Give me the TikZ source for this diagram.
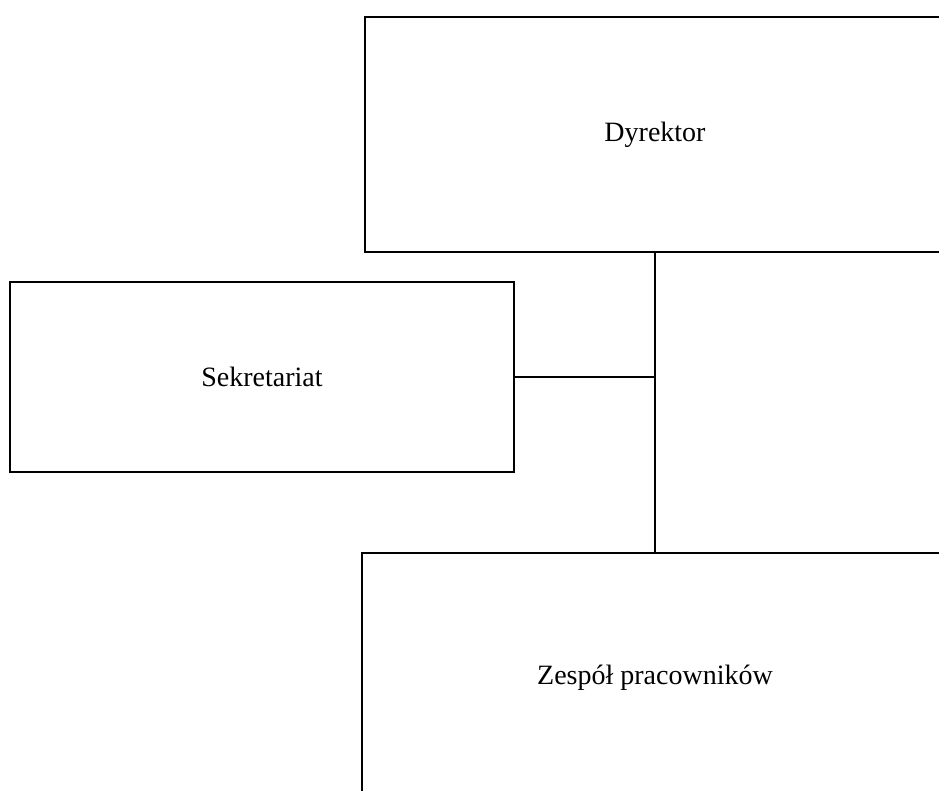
\documentclass[tikz,border=0pt]{standalone}
\usepackage{fontspec}
\setmainfont{Liberation Serif}
\tikzset{
  orgbox/.style={draw,line width=2.5pt,fill=white,font=\fontsize{28}{34}\selectfont,inner sep=0pt},
  orgline/.style={line width=2.5pt}
}
\begin{document}
\begin{tikzpicture}[x=1pt,y=-1pt]
% Page frame
\clip (0,0) rectangle (939,790);
\fill[white] (0,0) rectangle (939,790);

% Boxes
\node[orgbox,minimum width=580pt,minimum height=235pt] (dyrektor) at (655,134.5) {Dyrektor};
\node[orgbox,minimum width=504pt,minimum height=190pt] (sekretariat) at (262,377) {Sekretariat};
\node[orgbox,minimum width=586pt,minimum height=250pt] (zespol) at (655,678) {Zespół pracowników};

% Connectors
\coordinate (junction) at (dyrektor.south |- sekretariat.east);
\draw[orgline] (dyrektor.south) -- (zespol.north);
\draw[orgline] (sekretariat.east) -- (junction);
\end{tikzpicture}
\end{document}
